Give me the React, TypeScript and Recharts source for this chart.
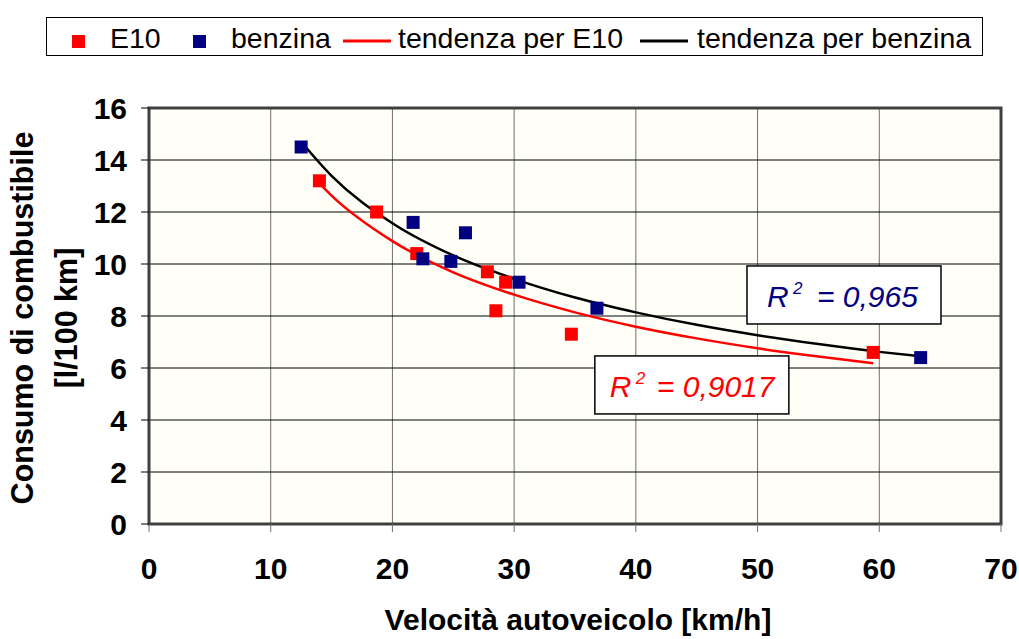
import {
  ComposedChart,
  Scatter,
  Line,
  XAxis,
  YAxis,
  CartesianGrid,
  ReferenceArea,
  ReferenceDot,
} from 'recharts'

// measured points
const e10Speed = [14, 18.7, 22, 27.8, 29.3, 28.5, 34.7, 59.5]
const e10Cons = [13.2, 12.0, 10.4, 9.7, 9.3, 8.2, 7.3, 6.6]
const benzSpeed = [12.5, 21.7, 26, 22.5, 24.8, 30.4, 36.8, 63.4]
const benzCons = [14.5, 11.6, 11.2, 10.2, 10.1, 9.3, 8.3, 6.4]

// trend lines
const e10TrendSpeed = [14, 15, 20, 25, 30, 35, 40, 45, 50, 55, 59.5]
const e10TrendCons = [13.1, 12.63, 10.88, 9.68, 8.82, 8.14, 7.59, 7.14, 6.76, 6.44, 6.18]
const benzTrendSpeed = [12.5, 15, 20, 25, 30, 35, 40, 45, 50, 55, 60, 63.4]
const benzTrendCons = [14.7, 13.39, 11.57, 10.33, 9.43, 8.71, 8.14, 7.66, 7.26, 6.92, 6.62, 6.45]

const xTicks = [0, 10, 20, 30, 40, 50, 60, 70]
const yTicks = [0, 2, 4, 6, 8, 10, 12, 14, 16]

const zip = (xs: number[], ys: number[]) => xs.map((x, i) => ({ x, y: ys[i] }))

const e10 = zip(e10Speed, e10Cons)
const benz = zip(benzSpeed, benzCons)
const e10Trend = zip(e10TrendSpeed, e10TrendCons)
const benzTrend = zip(benzTrendSpeed, benzTrendCons)

const FONT = 'Arial, "Liberation Sans", sans-serif'

const square = (color: string) => (props: any) => (
  <rect x={props.cx - 6.5} y={props.cy - 6.5} width={13} height={13} fill={color} />
)

const r2Box = (value: string, color: string, rOff: number, eqOff: number) => (props: any) => {
  const { cx, cy } = props
  const txt = { fill: color, fontFamily: FONT, fontStyle: 'italic', fontSize: 30 } as const
  return (
    <g>
      <rect x={cx - 97} y={cy - 30} width={194} height={58} fill="#fff" stroke="#000" strokeWidth={1.5} />
      <text x={cx + rOff} y={cy + 11} {...txt}>R</text>
      <text x={cx + rOff + 26} y={cy - 2} {...txt} fontSize={17}>2</text>
      <text x={cx + eqOff} y={cy + 11} {...txt}>{'= ' + value}</text>
    </g>
  )
}

function LegendBox() {
  const txt = { fontFamily: FONT, fontSize: 28.5, fill: '#000' }
  return (
    <svg width={1019} height={60} style={{ position: 'absolute', left: 0, top: 0 }}>
      <rect x={46.5} y={17.5} width={936} height={38} fill="#fff" stroke="#000" strokeWidth={1} />
      <rect x={72} y={35} width={13} height={13} fill="#ff0000" />
      <text x={110} y={48} {...txt}>E10</text>
      <rect x={193} y={35} width={13} height={13} fill="#000080" />
      <text x={231} y={48} {...txt}>benzina</text>
      <line x1={343} x2={391} y1={41} y2={41} stroke="#ff0000" strokeWidth={3} />
      <text x={398} y={48} {...txt}>tendenza per E10</text>
      <line x1={640} x2={688} y1={41} y2={41} stroke="#000" strokeWidth={3} />
      <text x={697} y={48} {...txt}>tendenza per benzina</text>
    </svg>
  )
}

export default function App() {
  return (
    <div style={{ position: 'relative', width: 1019, height: 639, background: '#fff' }}>
      <style>{'body{margin:0}'}</style>
      <ComposedChart
        width={1019}
        height={639}
        margin={{ top: 108, right: 18, bottom: 55, left: 69 }}
      >
        <CartesianGrid horizontal={false} vertical stroke="#707070" fill="#fffff7" />
        <CartesianGrid horizontal vertical={false} stroke="#000" />
        <XAxis
          dataKey="x"
          type="number"
          domain={[0, 70]}
          ticks={xTicks}
          height={60}
          axisLine={false}
          tickLine={{ stroke: '#707070' }}
          tickSize={8}
          tickMargin={26}
          tick={{ fill: '#000', fontSize: 30, fontWeight: 'bold', fontFamily: FONT }}
          label={{
            content: () => (
              <text
                x={578}
                y={630}
                textAnchor="middle"
                fontFamily={FONT}
                fontWeight="bold"
                fontSize={30}
                fill="#000"
              >
                Velocità autoveicolo [km/h]
              </text>
            ),
          }}
        />
        <YAxis
          dataKey="y"
          type="number"
          domain={[0, 16]}
          ticks={yTicks}
          width={80}
          axisLine={false}
          tickLine={{ stroke: '#000' }}
          tickSize={8}
          tickMargin={14}
          tick={{ fill: '#000', fontSize: 30, fontWeight: 'bold', fontFamily: FONT }}
          label={{
            content: () => (
              <g fontFamily={FONT} fontWeight="bold" fontSize={30.5} fill="#000">
                <text x={33} y={318} textAnchor="middle" transform="rotate(-90 33 318)">
                  Consumo di combustibile
                </text>
                <text x={77} y={318} textAnchor="middle" transform="rotate(-90 77 318)">
                  [l/100 km]
                </text>
              </g>
            ),
          }}
        />
        <ReferenceArea x1={0} x2={70} y1={0} y2={16} fill="none" stroke="#404040" strokeWidth={3} />
        <Line
          data={e10Trend}
          dataKey="y"
          type="monotone"
          stroke="#ff0000"
          strokeWidth={2.5}
          dot={false}
          isAnimationActive={false}
        />
        <Line
          data={benzTrend}
          dataKey="y"
          type="monotone"
          stroke="#000"
          strokeWidth={2.5}
          dot={false}
          isAnimationActive={false}
        />
        <Scatter data={e10} dataKey="y" shape={square('#ff0000')} isAnimationActive={false} />
        <Scatter data={benz} dataKey="y" shape={square('#000080')} isAnimationActive={false} />
        <ReferenceDot
          x={57.1}
          y={8.77}
          r={0}
          shape={r2Box('0,965', '#000080', -77, -27)}
          ifOverflow="visible"
        />
        <ReferenceDot
          x={44.6}
          y={5.31}
          r={0}
          shape={r2Box('0,9017', '#ff0000', -82, -35)}
          ifOverflow="visible"
        />
      </ComposedChart>
      <LegendBox />
    </div>
  )
}
